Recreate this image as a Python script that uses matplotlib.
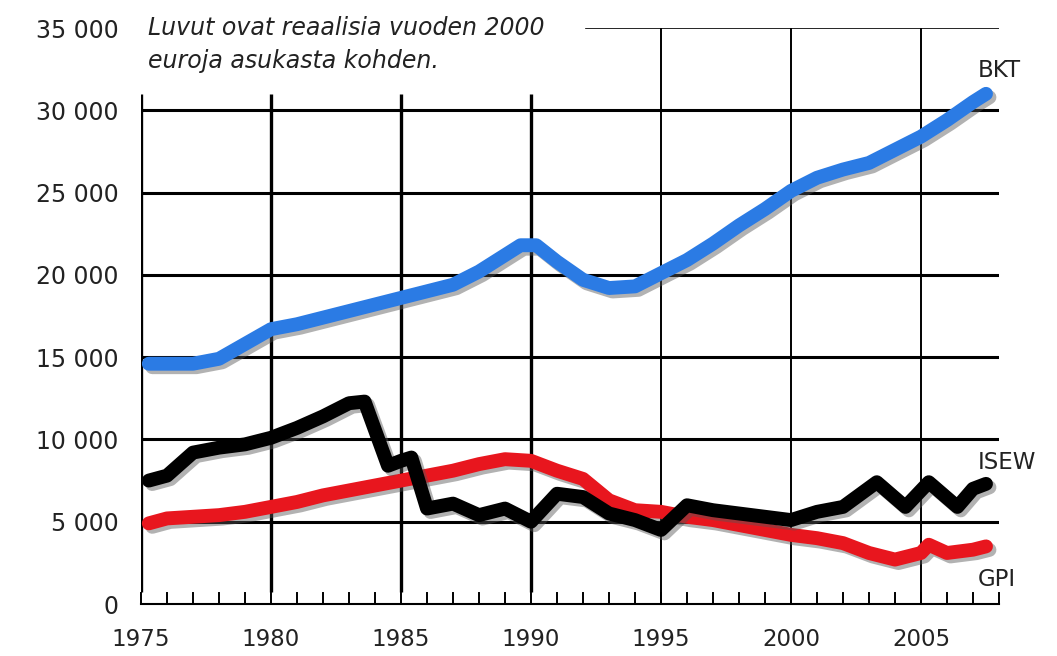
import matplotlib
matplotlib.use("Agg")
import matplotlib.pyplot as plt
import matplotlib.patheffects as pe

# data (euros per capita, year 2000 prices)
bkt_years = [1975.3, 1976, 1977, 1978, 1979, 1980, 1981, 1982, 1983, 1984, 1985, 1986,
             1987, 1988, 1989, 1989.6, 1990.2, 1991, 1992, 1993, 1994, 1995, 1996,
             1997, 1998, 1999, 2000, 2001, 2002, 2003, 2004, 2005, 2006, 2007, 2007.5]
bkt = [14600, 14600, 14600, 14900, 15800, 16700, 17000, 17400, 17800, 18200, 18600, 19000,
       19400, 20200, 21200, 21800, 21800, 20800, 19700, 19200, 19300, 20100, 20900,
       21900, 23000, 24000, 25100, 25900, 26400, 26800, 27600, 28400, 29400, 30500, 31000]

isew_years = [1975.3, 1976, 1977, 1978, 1979, 1980, 1981, 1982, 1983, 1983.6, 1984.5, 1985,
              1985.4, 1986, 1987, 1988, 1989, 1990, 1991, 1992, 1993, 1994, 1995,
              1996, 1997, 1998, 1999, 2000, 2001, 2002, 2003.3, 2004.4, 2005.3, 2006.4,
              2007, 2007.5]
isew = [7500, 7800, 9200, 9500, 9700, 10100, 10700, 11400, 12200, 12300, 8400, 8700,
        8900, 5800, 6100, 5400, 5800, 5000, 6700, 6500, 5500, 5100, 4500,
        6000, 5700, 5500, 5300, 5100, 5600, 5900, 7400, 5900, 7400, 5900,
        7000, 7300]

gpi_years = [1975.3, 1976, 1977, 1978, 1979, 1980, 1981, 1982, 1983, 1984, 1985, 1986,
             1987, 1988, 1989, 1990, 1991, 1992, 1993, 1994, 1995, 1996, 1997, 1998,
             1999, 2000, 2001, 2002, 2003, 2004, 2005, 2005.3, 2006, 2007, 2007.5]
gpi = [4900, 5200, 5300, 5400, 5600, 5900, 6200, 6600, 6900, 7200, 7500, 7800,
       8100, 8500, 8800, 8700, 8100, 7600, 6300, 5700, 5600, 5300, 5100, 4800,
       4500, 4200, 4000, 3700, 3100, 2700, 3100, 3600, 3100, 3300, 3500]

ytick_vals = [0, 5000, 10000, 15000, 20000, 25000, 30000, 35000]
ytick_labels = ["0", "5 000", "10 000", "15 000", "20 000", "25 000", "30 000", "35 000"]
xtick_vals = [1975, 1980, 1985, 1990, 1995, 2000, 2005]

plt.rcParams['font.family'] = ['DejaVu Sans']
txt = '#222222'

fig = plt.figure(figsize=(10.57, 6.56), dpi=100)
ax = fig.add_axes([141 / 1057, 52 / 656, 858 / 1057, 576 / 656])
ax.set_xlim(1975, 2008)
ax.set_ylim(0, 35000)
for s in ax.spines.values():
    s.set_visible(False)

# grid
for y in ytick_vals[1:-1]:
    ax.plot([1975, 2008], [y, y], color='black', lw=2.2, zorder=1, solid_capstyle='butt')
ax.plot([1992.1, 2008], [35000, 35000], color='black', lw=1.2, zorder=1)
for x in [1975, 1980, 1985, 1990]:
    ax.plot([x, x], [700, 31000], color='black', lw=2.4, zorder=1, solid_capstyle='butt')
for x in [1995, 2000, 2005]:
    ax.plot([x, x], [0, 35000], color='black', lw=1.4, zorder=1, solid_capstyle='butt')

# x axis with yearly minor ticks
ax.plot([1975, 2008], [0, 0], color='black', lw=1.5, zorder=1, clip_on=False)
for yr in range(1975, 2009):
    ax.plot([yr, yr], [0, 650], color='black', lw=1.4, zorder=1, clip_on=False)

ax.set_yticks(ytick_vals)
ax.set_yticklabels(ytick_labels)
ax.set_xticks(xtick_vals)
ax.set_xticklabels([str(v) for v in xtick_vals])
ax.tick_params(axis='y', length=0, pad=16, labelsize=17, labelcolor=txt)
ax.tick_params(axis='x', length=0, pad=17, labelsize=16.5, labelcolor=txt)

shadow = [pe.SimpleLineShadow(offset=(2.5, -2.5), shadow_color='#555555', alpha=0.45),
          pe.Normal()]
kw = dict(lw=10, solid_capstyle='round', solid_joinstyle='round', zorder=3,
          path_effects=shadow)
ax.plot(bkt_years, bkt, color='#2b7be4', **kw)
ax.plot(gpi_years, gpi, color='#e8161e', **kw)
ax.plot(isew_years, isew, color='black', **kw)

ax.text(1975.25, 35700, "Luvut ovat reaalisia vuoden 2000\neuroja asukasta kohden.",
        style='italic', fontsize=17, color=txt, va='top', ha='left',
        linespacing=1.45, clip_on=False)
ax.text(2007.2, 32400, "BKT", fontsize=16.5, color=txt, va='center', ha='left', clip_on=False)
ax.text(2007.2, 8600, "ISEW", fontsize=16.5, color=txt, va='center', ha='left', clip_on=False)
ax.text(2007.2, 1500, "GPI", fontsize=16.5, color=txt, va='center', ha='left', clip_on=False)

fig.savefig("out.png", dpi=100)
